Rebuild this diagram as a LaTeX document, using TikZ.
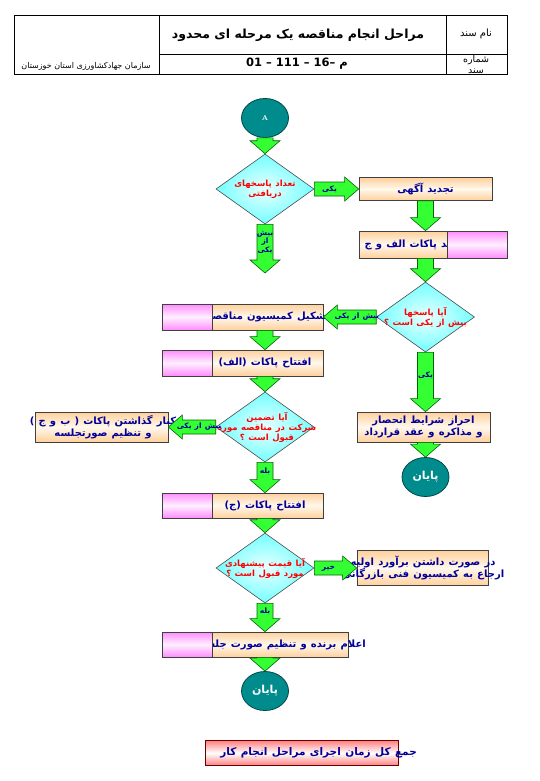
\documentclass[tikz,border=0pt]{standalone}
\usepackage{fontspec}
\usetikzlibrary{shapes.geometric, calc, positioning}
\newfontfamily\arabicfont[Script=Arabic]{DejaVu Sans}
\TeXXeTstate=1
\definecolor{txtblue}{RGB}{0,0,153}
\definecolor{arrgreen}{RGB}{51,255,51}
\definecolor{endteal}{RGB}{0,140,140}
\definecolor{peachA}{RGB}{255,208,156}
\definecolor{peachB}{RGB}{255,248,236}
\definecolor{pinkA}{RGB}{255,140,255}
\definecolor{pinkB}{RGB}{255,240,255}
\newcommand\fatxt[1]{{\arabicfont\bfseries\spaceskip=0.42em\relax\beginR #1\endR}}
\newcommand\fareg[1]{{\arabicfont\beginR #1\endR}}
\def\shw{8pt}\def\hdw{15pt}\def\hdl{13pt}
% fat block arrow from #1 to #2, label #3
\newcommand\fatarrow[3]{%
  \path (#1) coordinate (fs) (#2) coordinate (fe);
  \path ($(fe)!\hdl!(fs)$) coordinate (fh);
  \draw[fatarr] ($(fs)!\shw!90:(fe)$) -- ($(fh)!\shw!90:(fe)$) -- ($(fh)!\hdw!90:(fe)$)
    -- (fe) -- ($(fh)!\hdw!-90:(fe)$) -- ($(fh)!\shw!-90:(fe)$) -- ($(fs)!\shw!-90:(fe)$) -- cycle;
  \node[arrlbl] at ($(fs)!0.5!(fh)$) {#3};}
\tikzset{
  fatarr/.style={fill=arrgreen, draw=black!60!green, line width=0.6pt, line join=miter},
  arrlbl/.style={text=txtblue, inner sep=0pt, align=center, font=\fontsize{7.5}{8.5}\selectfont},
  box/.style={draw=black!75, line width=0.7pt, top color=peachA, bottom color=peachA, middle color=peachB, inner sep=0pt},
  pinkbox/.style={draw=black!75, line width=0.7pt, top color=pinkA, bottom color=pinkA, middle color=pinkB, inner sep=0pt, minimum width=50pt},
  dia/.style={diamond, draw=black!70, line width=0.6pt, inner color=cyan!8!white, outer color=cyan!55!white, inner sep=0pt, minimum width=98pt, minimum height=70pt},
  ell/.style={ellipse, draw=black!50!endteal, line width=0.8pt, fill=endteal, text=white, inner sep=0pt, minimum width=47pt, minimum height=39pt, font=\fontsize{11}{13}\selectfont},
  bluetxt/.style={text=txtblue, inner sep=0pt, align=center, font=\fontsize{10}{12.5}\selectfont},
  redtxt/.style={text=red, inner sep=0pt, align=center, font=\fontsize{8.5}{10}\selectfont},
  hdr/.style={draw=black, line width=0.8pt}
}
\begin{document}
\begin{tikzpicture}[x=1pt, y=-1pt]
\path[use as bounding box, fill=white] (0,0) rectangle (540,781);
% header
\draw[hdr] (14,15) rectangle (507,74);
\draw[hdr] (159,15) -- (159,74) (446,15) -- (446,74) (159,54) -- (507,54);
\node[font=\fontsize{12.5}{14}\selectfont, inner sep=0pt] (title) at (298,35) {{\arabicfont\bfseries\beginR مراحل انجام مناقصه یک مرحله ای محدود\endR}};
\node[font=\fontsize{11.5}{13}\selectfont, inner sep=0pt] (code) at (297,64) {{\arabicfont\bfseries\hbox{01}\ –\ \hbox{111}\ –\ \hbox{16}–\ \hbox{م}}};
\node[font=\fontsize{10}{12}\selectfont, inner sep=0pt] (docname) at (476,34) {\fareg{نام سند}};
\node[font=\fontsize{9.5}{11}\selectfont, inner sep=0pt, align=center] (docnum) at (476,64) {\fareg{شماره}\\\fareg{سند}};
\node[font=\fontsize{8}{9}\selectfont, inner sep=0pt] (org) at (86,66) {\fareg{سازمان جهادکشاورزی استان خوزستان}};

% Nodes
\node[ell, font=\fontsize{7}{8}\selectfont] (nA) at (265,118) {\textbf{A}};
\node[dia] (d1) at (265,189) {};
\node[redtxt] (d1t) at (d1) {\fatxt{تعداد پاسخهای}\\\fatxt{دریافتی}};
\coordinate (c1) at (265,273);
\node[box, minimum width=133pt, minimum height=23pt] (b1) at (425.5,189) {};
\node[bluetxt] (b1t) at (b1) {\fatxt{تجدید آگهی}};
\node[box, minimum width=133pt, minimum height=27pt] (b2) at (425.5,244.5) {};
\node[bluetxt, anchor=east] (b2t) at (467,244.5) {\fatxt{تمدید پاکات الف و ج}};
\node[pinkbox, minimum width=60pt, minimum height=27pt] (p2) at (477,244.5) {};
\node[dia] (d2) at (425.5,317) {};
\node[redtxt] (d2t) at (d2) {\fatxt{آیا پاسخها}\\\fatxt{بیش از یکی است ؟}};
\node[box, minimum width=161pt, minimum height=26pt] (b3) at (242.5,317) {};
\node[bluetxt, anchor=east] (b3t) at (330,317) {\fatxt{تشکیل کمیسیون مناقصه}};
\node[pinkbox, minimum height=26pt] (p3) at (187,317) {};
\node[box, minimum width=161pt, minimum height=26pt] (b4) at (242.5,363) {};
\node[bluetxt] (b4t) at (265,363) {\fatxt{افتتاح پاکات (الف)}};
\node[pinkbox, minimum height=26pt] (p4) at (187,363) {};
\node[dia] (d3) at (265,427) {};
\node[redtxt] (d3t) at (267,427) {\fatxt{آیا تضمین}\\\fatxt{شرکت در مناقصه مورد}\\\fatxt{قبول است ؟}};
\node[box, minimum width=133pt, minimum height=30pt] (b5) at (101.5,427) {};
\node[bluetxt] (b5t) at (103,427) {\fatxt{کنار گذاشتن پاکات ( ب و ج )}\\\fatxt{و تنظیم صورتجلسه}};
\node[box, minimum width=133pt, minimum height=30pt] (b9) at (423.5,427) {};
\node[bluetxt] (b9t) at (b9) {\fatxt{احراز شرایط انحصار}\\\fatxt{و مذاکره و عقد قرارداد}};
\node[ell] (end1) at (425.5,477) {\fatxt{پایان}};
\node[box, minimum width=161pt, minimum height=25pt] (b6) at (242.5,505.5) {};
\node[bluetxt] (b6t) at (265,505.5) {\fatxt{افتتاح پاکات (ج)}};
\node[pinkbox, minimum height=25pt] (p6) at (187,505.5) {};
\node[dia] (d4) at (265,568) {};
\node[redtxt] (d4t) at (d4) {\fatxt{آیا قیمت پیشنهادی}\\\fatxt{مورد قبول است ؟}};
\node[box, minimum width=131pt, minimum height=35pt] (b7) at (422.5,568) {};
\node[bluetxt] (b7t) at (423,568) {\fatxt{در صورت داشتن برآورد اولیه}\\\fatxt{ارجاع به کمیسیون فنی بازرگانی}};
\node[box, minimum width=186pt, minimum height=25pt] (b8) at (255,644.5) {};
\node[bluetxt, anchor=east] (b8t) at (366,644.5) {\fatxt{اعلام برنده و تنظیم صورت جلسه}};
\node[pinkbox, minimum height=25pt] (p8) at (187,644.5) {};
\node[ell] (end2) at (265,691) {\fatxt{پایان}};
\node[draw=black!60!red, line width=0.7pt, top color=red!50!white, bottom color=red!50!white, middle color=white, minimum width=193pt, minimum height=25pt, inner sep=0pt] (sum) at (301.5,753) {};
\node[bluetxt, anchor=east, font=\fontsize{10.5}{12}\selectfont] (sumt) at (417,753) {\fatxt{جمع کل زمان اجرای مراحل انجام کار}};

% Edges
\fatarrow{nA.south}{d1.north}{}
\fatarrow{d1.south}{c1}{\fatxt{بیش}\\\fatxt{از}\\\fatxt{یکی}}
{\def\shw{7pt}\def\hdw{12pt}\def\hdl{14pt}
\fatarrow{d1.east}{b1.west}{\fatxt{یکی}}
\fatarrow{d2.west}{b3.east}{\fatxt{بیش از یکی}}
\fatarrow{d3.west}{b5.east}{\fatxt{بیش از یکی}}
\fatarrow{d4.east}{b7.west}{\fatxt{خیر}}}
\fatarrow{b1.south}{b2.north}{}
\fatarrow{b2.south}{d2.north}{}
\fatarrow{d2.south}{b9.north -| d2}{\fatxt{یکی}}
\fatarrow{b9.south -| d2}{end1.north}{}
\fatarrow{b3.south -| nA}{b4.north -| nA}{}
\fatarrow{b4.south -| nA}{d3.north}{}
\fatarrow{d3.south}{b6.north -| nA}{\fatxt{بله}}
\fatarrow{b6.south -| nA}{d4.north}{}
\fatarrow{d4.south}{b8.north -| nA}{\fatxt{بله}}
\fatarrow{b8.south -| nA}{end2.north}{}
\end{tikzpicture}
\end{document}
